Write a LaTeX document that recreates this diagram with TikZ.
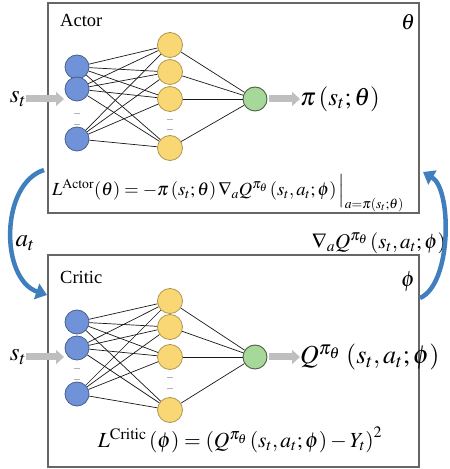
\documentclass[tikz,border=0pt]{standalone}
\usepackage{mathptmx}
\usepackage{fontspec}
\setmainfont{Liberation Serif}
\usetikzlibrary{arrows.meta, positioning}

\definecolor{inblue}{HTML}{7092D8}
\definecolor{hidyel}{HTML}{F8D774}
\definecolor{outgrn}{HTML}{A6D89A}
\definecolor{fbblue}{HTML}{3F7FBE}

\begin{document}
\begin{tikzpicture}[x=1pt, y=1pt,
    box/.style={draw=black!60, line width=1.3pt, minimum width=371pt, inner sep=0pt},
    inp/.style={circle, draw=inblue!65!black, fill=inblue, minimum size=24pt, inner sep=0pt, line width=0.8pt},
    hid/.style={circle, draw=hidyel!70!black, fill=hidyel, minimum size=25pt, inner sep=0pt, line width=0.8pt},
    outn/.style={circle, draw=outgrn!45!black, fill=outgrn, minimum size=24pt, inner sep=0pt, line width=0.9pt},
    wire/.style={draw=black!90, line width=0.7pt},
    fat/.style={draw=black!25, line width=7pt, -{Triangle[length=8pt,width=14pt]}},
    feedback/.style={draw=fbblue, line width=4.5pt, -{Triangle[length=11pt,width=16pt]}},
    gapmark/.style={draw=black!30, line width=1pt},
    lbl/.style={font=\fontsize{18.5}{20}\selectfont, inner sep=0pt},
    big/.style={font=\fontsize{25}{27}\selectfont, inner sep=0pt},
    eq/.style={font=\fontsize{18.5}{20}\selectfont, inner sep=0pt}
  ]
\useasboundingbox (0,0) rectangle (450,469);

% boxes
\node[box, minimum height=210pt] (actor) at (233.5,361) {};
\node[box, minimum height=212pt] (critic) at (233.5,108) {};
\node[lbl, anchor=west] (actorlbl) at (60,449) {Actor};
\node[big, anchor=center, font=\fontsize{22}{24}\selectfont] (theta) at (408,447) {$\theta$};
\node[lbl, anchor=west] (criticlbl) at (60,192) {Critic};
\node[big, anchor=center, font=\fontsize{22}{24}\selectfont] (phi) at (408,187) {$\phi$};

% actor network
\node[inp] (ai1) at (77,402) {};
\node[inp] (ai2) at (77,380) {};
\node[inp] (ai3) at (77,330) {};
\node[hid] (ah1) at (170,424) {};
\node[hid] (ah2) at (170,397) {};
\node[hid] (ah3) at (170,370) {};
\node[hid] (ah4) at (170,321) {};
\node[outn] (ao) at (255,370) {};
\foreach \i in {1,2,3}
  \foreach \j in {1,...,4}
    \draw[wire] (ai\i) -- (ah\j);
\foreach \j in {1,...,4}
  \draw[wire] (ah\j) -- (ao);

\node[big] (as) at (18,370) {$s_t$};
\coordinate (ain) at (64,370);
\draw[fat] (as) -- (ain);
\node[big, anchor=west] (api) at (300,370) {$\pi\left(s_t;\theta\right)$};
\draw[fat, shorten <=2pt] (ao) -- (api);
\node[eq] (aloss) at (228,276)
  {$L^{\mathrm{Actor}}(\theta)=-\pi\left(s_t;\theta\right)\nabla_{a}Q^{\pi_\theta}\left(s_t,a_t;\phi\right)\Big|_{a=\pi(s_t;\theta)}$};

% critic network
\node[inp] (ci1) at (77,147) {};
\node[inp] (ci2) at (77,121) {};
\node[inp] (ci3) at (77,75) {};
\node[hid] (ch1) at (170,168) {};
\node[hid] (ch2) at (170,142) {};
\node[hid] (ch3) at (170,112) {};
\node[hid] (ch4) at (170,59) {};
\node[outn] (co) at (255,112) {};
\foreach \i in {1,2,3}
  \foreach \j in {1,...,4}
    \draw[wire] (ci\i) -- (ch\j);
\foreach \j in {1,...,4}
  \draw[wire] (ch\j) -- (co);

% little marks for the left-out units
\foreach \x/\y in {77/355, 77/344, 170/349, 170/339, 77/100, 77/89, 170/91, 170/80}
  \draw[gapmark] (\x-3,\y) -- (\x+3,\y);

\node[big] (cs) at (18,112) {$s_t$};
\coordinate (cin) at (64,112);
\draw[fat] (cs) -- (cin);
\node[big, anchor=west, font=\fontsize{26}{28}\selectfont] (cq) at (300,112) {$Q^{\pi_\theta}\,\left(s_t,a_t;\phi\right)$};
\draw[fat, shorten <=2pt] (co) -- (cq);
\node[eq, font=\fontsize{21.5}{23}\selectfont] (closs) at (240,29)
  {$L^{\mathrm{Critic}}\,(\phi)=\left(Q^{\pi_\theta}\left(s_t,a_t;\phi\right)-Y_t\right)^2$};

% feedback between the two
\node[big] (at) at (25,226) {$a_t$};
\node[big, anchor=east, font=\fontsize{21}{23}\selectfont] (grad) at (446,226)
  {$\nabla_{a}Q^{\pi_\theta}\left(s_t,a_t;\phi\right)$};
\coordinate (ltail) at (44,299);
\coordinate (lhead) at (47,174);
\coordinate (rtail) at (420,171);
\coordinate (rhead) at (423,297);
\draw[feedback] (ltail) .. controls (0,285) and (0,190) .. (lhead);
\draw[feedback] (rtail) .. controls (452,185) and (452,280) .. (rhead);
\end{tikzpicture}
\end{document}
